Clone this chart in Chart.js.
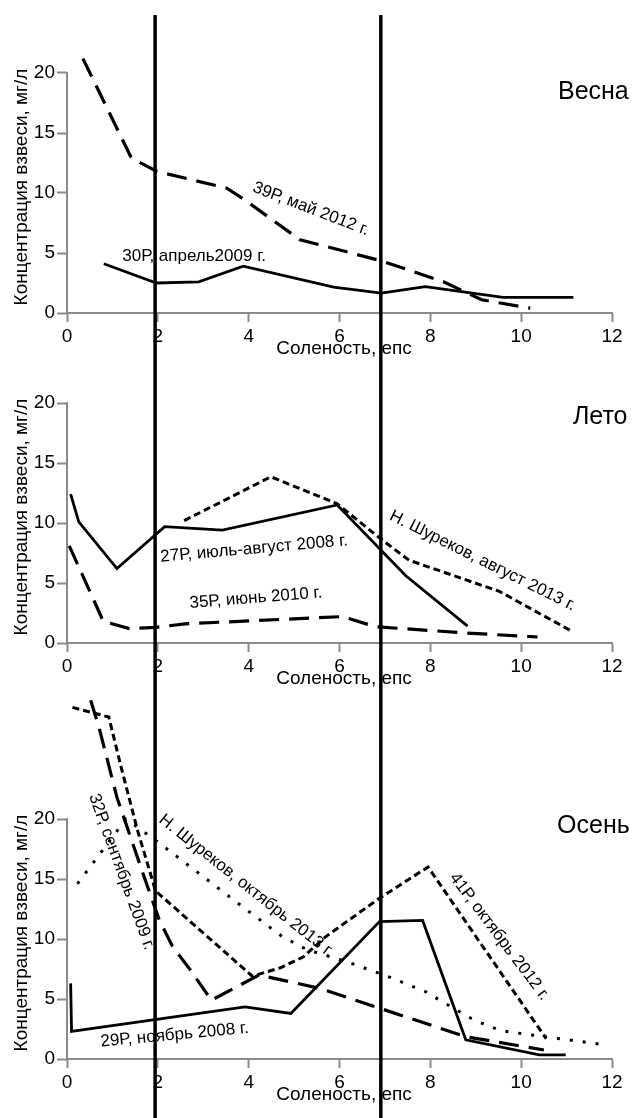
<!DOCTYPE html>
<html>
<head>
<meta charset="utf-8">
<script src="https://cdn.jsdelivr.net/npm/chart.js@4.4.1/dist/chart.umd.min.js"></script>
<style>
  body { margin: 0; background: #fff; }
  canvas { display: block; }
</style>
</head>
<body>
<canvas id="spring" width="637" height="360"></canvas>
<canvas id="summer" width="637" height="330"></canvas>
<canvas id="autumn" width="637" height="428"></canvas>
<script>
// axes
const salinityTicks = [0, 2, 4, 6, 8, 10, 12];
const concTicks = [0, 5, 10, 15, 20];
const boundarySalinity = [1.94, 6.91];

// Весна
const sal39P = [0.35, 1.42, 1.98, 3.52, 3.96, 5.13, 6.92, 8.29, 9.13, 10.2];
const conc39P = [21.2, 12.9, 11.8, 10.4, 9.3, 6.1, 4.35, 2.6, 1.1, 0.4];
const sal30P = [0.81, 1.97, 2.9, 3.88, 5.87, 6.92, 7.89, 9.6, 11.15];
const conc30P = [4.1, 2.5, 2.6, 3.9, 2.15, 1.65, 2.2, 1.3, 1.3];

// Лето
const sal27P = [0.08, 0.26, 1.1, 2.15, 3.42, 5.95, 7.46, 8.82];
const conc27P = [12.4, 10.1, 6.2, 9.7, 9.4, 11.5, 5.6, 1.4];
const sal35P = [0.05, 0.8, 1.37, 1.95, 2.6, 6.06, 6.8, 8.93, 10.36];
const conc35P = [8.1, 1.8, 1.2, 1.3, 1.6, 2.2, 1.35, 0.8, 0.5];
const salShurAug = [2.58, 4.49, 5.95, 6.9, 7.53, 9.52, 11.13];
const concShurAug = [10.2, 13.85, 11.6, 8.7, 6.9, 4.3, 0.95];

// Осень
const sal29P = [0.08, 0.1, 3.92, 4.93, 6.88, 7.83, 8.78, 10.4, 10.98];
const conc29P = [6.3, 2.3, 4.35, 3.8, 11.45, 11.55, 1.6, 0.35, 0.35];
const sal32P = [0.52, 0.7, 1.1, 1.66, 2.03, 2.32, 2.72, 3.18, 4.23, 5.55, 6.87, 8.78, 10.5];
const conc32P = [29.9, 27.7, 21.8, 15.6, 11.6, 9.4, 7.4, 4.9, 7.0, 5.9, 4.25, 1.86, 0.75];
const sal41P = [0.12, 0.92, 1.2, 1.55, 1.95, 4.08, 4.7, 5.2, 5.7, 6.88, 7.95, 10.55];
const conc41P = [29.3, 28.5, 24.2, 19.1, 14.0, 6.9, 7.6, 8.5, 10.2, 13.4, 16.0, 1.7];
const salShurOct = [0.23, 1.3, 2.03, 3.24, 4.0, 4.74, 5.29, 6.17, 7.05, 7.9, 8.45, 8.96, 9.55, 10.5, 11.72];
const concShurOct = [14.6, 20.0, 18.0, 14.5, 12.3, 10.2, 9.1, 8.1, 6.9, 5.6, 4.36, 3.25, 2.36, 1.86, 1.25];

const FONT = '"Liberation Sans", Arial, sans-serif';
const AXIS_GRAY = '#8a8a8a';

const dashes = {
    solid: [],
    long: [20, 10],
    short: [7, 4],
    dotted: [3, 10]
};

function series(sal, conc, dash, width) {
    return {
        data: sal.map((s, i) => ({ x: s, y: conc[i] })),
        borderColor: '#000',
        borderWidth: width || 3,
        borderDash: dash,
        pointRadius: 0,
        tension: 0,
        fill: false
    };
}

function makeDecor(panel) {
    return {
        id: 'decor',
        afterDraw(chart) {
            const { ctx, scales: { x, y } } = chart;
            ctx.save();

            // y axis only up to 20
            ctx.strokeStyle = AXIS_GRAY;
            ctx.lineWidth = 2;
            ctx.beginPath();
            ctx.moveTo(x.left, y.getPixelForValue(0) + 1);
            ctx.lineTo(x.left, y.getPixelForValue(concTicks[concTicks.length - 1]) - 1);
            ctx.stroke();

            ctx.fillStyle = '#000';
            ctx.textAlign = 'center';
            ctx.textBaseline = 'middle';
            ctx.font = '19px ' + FONT;
            ctx.fillText('Соленость, епс', x.getPixelForValue(6.1), y.getPixelForValue(0) + 36);

            ctx.save();
            ctx.translate(22, y.getPixelForValue(10.5));
            ctx.rotate(-Math.PI / 2);
            ctx.fillText('Концентрация взвеси, мг/л', 0, 0);
            ctx.restore();

            for (const l of panel.labels) {
                ctx.save();
                ctx.translate(x.getPixelForValue(l.x), y.getPixelForValue(l.y));
                ctx.rotate(l.angle * Math.PI / 180);
                ctx.font = (l.size || 17) + 'px ' + FONT;
                ctx.fillText(l.text, 0, 0);
                ctx.restore();
            }

            // boundaries at 2 and 7
            ctx.strokeStyle = '#000';
            ctx.lineWidth = 3.5;
            for (const b of boundarySalinity) {
                const px = x.getPixelForValue(b);
                ctx.beginPath();
                ctx.moveTo(px, panel.lineTop);
                ctx.lineTo(px, chart.height);
                ctx.stroke();
            }
            ctx.restore();
        }
    };
}

function makePanel(id, panel) {
    const canvas = document.getElementById(id);
    const xAxisHeight = canvas.height - panel.axisY;
    return new Chart(canvas, {
        type: 'line',
        data: { datasets: panel.datasets },
        options: {
            responsive: false,
            animation: false,
            layout: { padding: { top: panel.axisY - panel.yMax * 12, right: 25, left: 0, bottom: 0 } },
            plugins: { legend: { display: false }, tooltip: { enabled: false } },
            scales: {
                x: {
                    type: 'linear',
                    min: 0,
                    max: 12,
                    afterBuildTicks: s => { s.ticks = salinityTicks.map(v => ({ value: v })); },
                    afterFit: s => { s.height = xAxisHeight; },
                    grid: { drawOnChartArea: false, drawTicks: true, tickLength: 9, tickColor: AXIS_GRAY, tickWidth: 2 },
                    border: { display: true, color: AXIS_GRAY, width: 2 },
                    ticks: { padding: 3, color: '#000', maxRotation: 0, autoSkip: false, font: { family: FONT, size: 19 } }
                },
                y: {
                    type: 'linear',
                    min: 0,
                    max: panel.yMax,
                    afterBuildTicks: s => { s.ticks = concTicks.map(v => ({ value: v })); },
                    afterFit: s => { s.width = 67; s.paddingTop = 0; s.paddingBottom = 0; },
                    grid: { drawOnChartArea: false, drawTicks: true, tickLength: 10, tickColor: AXIS_GRAY, tickWidth: 2 },
                    border: { display: false },
                    ticks: { padding: 2, color: '#000', font: { family: FONT, size: 19 } }
                }
            }
        },
        plugins: [makeDecor(panel)]
    });
}

makePanel('spring', {
    axisY: 313, yMax: 24, lineTop: 15,
    datasets: [
        series(sal39P, conc39P, dashes.long, 3.2),
        series(sal30P, conc30P, dashes.solid, 2.8)
    ],
    labels: [
        { text: 'Весна', x: 11.59, y: 18.44, angle: 0, size: 25 },
        { text: '30Р, апрель2009 г.', x: 2.8, y: 4.75, angle: 0 },
        { text: '39Р, май 2012 г.', x: 5.37, y: 8.67, angle: 21 }
    ]
});

makePanel('summer', {
    axisY: 283, yMax: 23, lineTop: 0,
    datasets: [
        series(sal27P, conc27P, dashes.solid, 2.8),
        series(sal35P, conc35P, dashes.long, 3.2),
        series(salShurAug, concShurAug, dashes.short, 3)
    ],
    labels: [
        { text: 'Лето', x: 11.74, y: 18.86, angle: 0, size: 25 },
        { text: '27Р, июль-август 2008 г.', x: 4.12, y: 7.85, angle: -5 },
        { text: '35Р, июнь 2010 г.', x: 4.16, y: 3.75, angle: -4.6 },
        { text: 'Н. Шуреков, август 2013 г.', x: 9.15, y: 6.85, angle: 26.5 }
    ]
});

makePanel('autumn', {
    axisY: 369, yMax: 30.5, lineTop: 0,
    datasets: [
        series(sal29P, conc29P, dashes.solid, 2.8),
        series(sal32P, conc32P, dashes.long, 3.2),
        series(sal41P, conc41P, dashes.short, 3),
        series(salShurOct, concShurOct, dashes.dotted, 3)
    ],
    labels: [
        { text: 'Осень', x: 11.59, y: 19.43, angle: 0, size: 25 },
        { text: '32Р, сентябрь 2009 г.', x: 1.2, y: 15.6, angle: 70 },
        { text: 'Н. Шуреков, октябрь 2013 г.', x: 3.95, y: 14.43, angle: 38.5 },
        { text: '41Р, октябрь 2012 г.', x: 9.52, y: 10.2, angle: 53 },
        { text: '29Р, ноябрь 2008 г.', x: 2.37, y: 2.0, angle: -5.3 }
    ]
});
</script>
</body>
</html>
